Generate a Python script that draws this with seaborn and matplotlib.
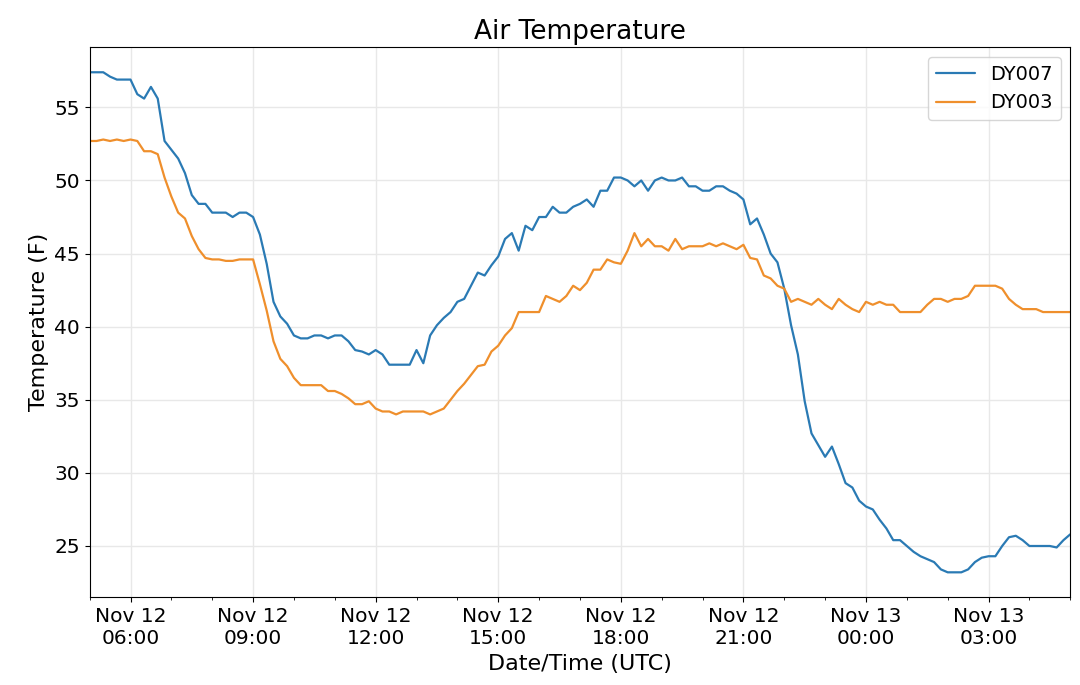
import matplotlib
matplotlib.use("Agg")
import matplotlib.pyplot as plt
import matplotlib.dates as mdates
import numpy as np
import pandas as pd
import seaborn as sns

# 10-minute readings, Nov 12 05:00 UTC to Nov 13 05:00 UTC
times = pd.date_range("2018-11-12 05:00", "2018-11-13 05:00", freq="10min")

dy007 = [
    57.4, 57.4, 57.4, 57.1, 56.9, 56.9, 56.9, 55.9, 55.6, 56.4,
    55.6, 52.7, 52.1, 51.5, 50.5, 49.0, 48.4, 48.4, 47.8, 47.8,
    47.8, 47.5, 47.8, 47.8, 47.5, 46.3, 44.3, 41.7, 40.7, 40.2,
    39.4, 39.2, 39.2, 39.4, 39.4, 39.2, 39.4, 39.4, 39.0, 38.4,
    38.3, 38.1, 38.4, 38.1, 37.4, 37.4, 37.4, 37.4, 38.4, 37.5,
    39.4, 40.1, 40.6, 41.0, 41.7, 41.9, 42.8, 43.7, 43.5, 44.2,
    44.8, 46.0, 46.4, 45.2, 46.9, 46.6, 47.5, 47.5, 48.2, 47.8,
    47.8, 48.2, 48.4, 48.7, 48.2, 49.3, 49.3, 50.2, 50.2, 50.0,
    49.6, 50.0, 49.3, 50.0, 50.2, 50.0, 50.0, 50.2, 49.6, 49.6,
    49.3, 49.3, 49.6, 49.6, 49.3, 49.1, 48.7, 47.0, 47.4, 46.3,
    45.0, 44.4, 42.6, 40.1, 38.1, 34.9, 32.7, 31.9, 31.1, 31.8,
    30.6, 29.3, 29.0, 28.1, 27.7, 27.5, 26.8, 26.2, 25.4, 25.4,
    25.0, 24.6, 24.3, 24.1, 23.9, 23.4, 23.2, 23.2, 23.2, 23.4,
    23.9, 24.2, 24.3, 24.3, 25.0, 25.6, 25.7, 25.4, 25.0, 25.0,
    25.0, 25.0, 24.9, 25.4, 25.8,
]

dy003 = [
    52.7, 52.7, 52.8, 52.7, 52.8, 52.7, 52.8, 52.7, 52.0, 52.0,
    51.8, 50.2, 48.9, 47.8, 47.4, 46.2, 45.3, 44.7, 44.6, 44.6,
    44.5, 44.5, 44.6, 44.6, 44.6, 42.9, 41.1, 39.0, 37.8, 37.3,
    36.5, 36.0, 36.0, 36.0, 36.0, 35.6, 35.6, 35.4, 35.1, 34.7,
    34.7, 34.9, 34.4, 34.2, 34.2, 34.0, 34.2, 34.2, 34.2, 34.2,
    34.0, 34.2, 34.4, 35.0, 35.6, 36.1, 36.7, 37.3, 37.4, 38.3,
    38.7, 39.4, 39.9, 41.0, 41.0, 41.0, 41.0, 42.1, 41.9, 41.7,
    42.1, 42.8, 42.5, 43.0, 43.9, 43.9, 44.6, 44.4, 44.3, 45.2,
    46.4, 45.5, 46.0, 45.5, 45.5, 45.2, 46.0, 45.3, 45.5, 45.5,
    45.5, 45.7, 45.5, 45.7, 45.5, 45.3, 45.6, 44.7, 44.6, 43.5,
    43.3, 42.8, 42.6, 41.7, 41.9, 41.7, 41.5, 41.9, 41.5, 41.2,
    41.9, 41.5, 41.2, 41.0, 41.7, 41.5, 41.7, 41.5, 41.5, 41.0,
    41.0, 41.0, 41.0, 41.5, 41.9, 41.9, 41.7, 41.9, 41.9, 42.1,
    42.8, 42.8, 42.8, 42.8, 42.6, 41.9, 41.5, 41.2, 41.2, 41.2,
    41.0, 41.0, 41.0, 41.0, 41.0,
]

df = pd.DataFrame({"time": times, "DY007": dy007, "DY003": dy003})
df = df.melt(id_vars="time", var_name="station", value_name="temp")

sns.set_style("ticks")
plt.rcParams["font.family"] = ["DejaVu Sans"]
plt.rcParams["text.color"] = "black"
plt.rcParams["axes.labelcolor"] = "black"
plt.rcParams["xtick.color"] = "black"
plt.rcParams["ytick.color"] = "black"

fig, ax = plt.subplots(figsize=(10.8, 6.85), dpi=100)
sns.lineplot(
    data=df, x="time", y="temp", hue="station",
    palette=["#2a7ab4", "#ef8f2c"], linewidth=1.6, ax=ax,
)

ax.set_xlim(times[0], times[-1])
ax.xaxis.set_major_locator(mdates.HourLocator(byhour=range(0, 24, 3)))
ax.xaxis.set_minor_locator(mdates.HourLocator())
ax.xaxis.set_major_formatter(mdates.DateFormatter("%b %d\n%H:%M"))
ax.grid(True, which="major", color="#e8e8e8", linewidth=1)
for s in ax.spines.values():
    s.set_visible(True)
    s.set_color("black")

ax.set_title("Air Temperature", fontsize=19)
ax.set_xlabel("Date/Time (UTC)", fontsize=16)
ax.set_ylabel("Temperature (F)", fontsize=16)
ax.tick_params(axis="both", which="major", labelsize=14.5)
ax.legend(title=None, fontsize=14, loc="upper right")

fig.subplots_adjust(left=0.083, right=0.991, top=0.931, bottom=0.128)
fig.savefig("out.png", dpi=100)
